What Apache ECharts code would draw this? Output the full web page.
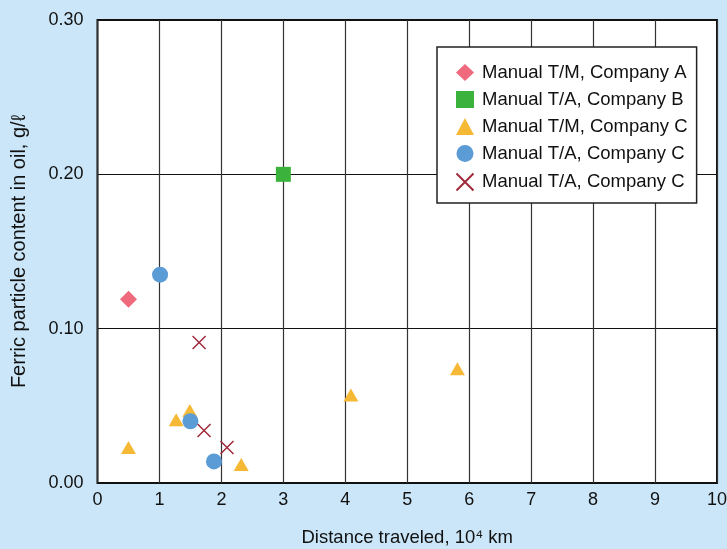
<!DOCTYPE html>
<html>
<head>
<meta charset="utf-8">
<script src="https://cdn.jsdelivr.net/npm/echarts@6/dist/echarts.min.js"></script>
<style>
  html, body { margin: 0; padding: 0; background: #cbe6f8; }
  #chart { width: 727px; height: 549px; }
</style>
</head>
<body>
<div id="chart"></div>
<script>
// data: [distance (10^4 km), ferric content (g/l)]
var seriesNames = ["Manual T/M, Company A", "Manual T/A, Company B", "Manual T/M, Company C", "Manual T/A, Company C", "Manual T/A, Company C "];
var tmCompanyA = [[0.5, 0.119]];
var taCompanyB = [[3.0, 0.200]];
var tmCompanyC = [[0.5, 0.023], [1.27, 0.041], [1.49, 0.047], [2.32, 0.012], [4.09, 0.057], [5.81, 0.074]];
var taCompanyC = [[1.01, 0.135], [1.5, 0.040], [1.88, 0.014]];
var taCompanyC2 = [[1.64, 0.091], [1.72, 0.034], [2.09, 0.023]];
var xTicks = [0, 1, 2, 3, 4, 5, 6, 7, 8, 9, 10];
var yTicks = [0, 0.1, 0.2, 0.3];

(function () {
    var myChart = echarts.init(document.getElementById("chart"));
    var font = "'Liberation Sans', Arial, sans-serif";
    var crossPath = "path://M0,0L10,10M10,0L0,10";

    var option = {
        backgroundColor: "#cbe6f8",
        textStyle: { fontFamily: font },
        grid: {
            left: 97.5,
            right: 10,
            top: 20,
            bottom: 66,
            outerBoundsMode: "none",
            show: true,
            backgroundColor: "#fff",
            borderColor: "#111",
            borderWidth: 2
        },
        legend: {
            orient: "vertical",
            left: 437,
            top: 47,
            backgroundColor: "#fff",
            borderColor: "#222",
            borderWidth: 1.5,
            borderRadius: 0,
            padding: [16, 9, 10, 17],
            itemGap: 8,
            itemWidth: 18,
            itemHeight: 17,
            textStyle: { fontSize: 18.5, color: "#111", fontFamily: font, padding: [0, 0, 0, 3] },
            formatter: function (name) { return name.trim(); },
            data: seriesNames
        },
        xAxis: {
            type: "value",
            min: xTicks[0],
            max: xTicks[xTicks.length - 1],
            interval: 1,
            name: "Distance traveled, 10\u2074 km",
            nameLocation: "middle",
            nameGap: 45,
            nameTextStyle: { fontSize: 18.5, color: "#111" },
            axisLine: { show: false },
            axisTick: { show: false },
            axisLabel: { fontSize: 18, color: "#111", margin: 8 },
            splitLine: { lineStyle: { color: "#333", width: 1.2 } }
        },
        yAxis: {
            type: "value",
            min: yTicks[0],
            max: yTicks[yTicks.length - 1],
            interval: 0.1,
            name: "Ferric particle content in oil, g/\u2113",
            nameLocation: "middle",
            nameGap: 68,
            nameTextStyle: { fontSize: 20, color: "#111" },
            axisLine: { show: false },
            axisTick: { show: false },
            axisLabel: {
                fontSize: 18,
                color: "#111",
                margin: 14,
                formatter: function (v) { return v.toFixed(2); }
            },
            splitLine: { lineStyle: { color: "#111", width: 1.2 } }
        },
        series: [
            {
                name: seriesNames[0],
                type: "scatter",
                symbol: "diamond",
                symbolSize: [17, 17],
                itemStyle: { color: "#ee6a7c", opacity: 1 },
                data: tmCompanyA
            },
            {
                name: seriesNames[1],
                type: "scatter",
                symbol: "rect",
                symbolSize: 15,
                itemStyle: { color: "#3bb23c", opacity: 1 },
                data: taCompanyB
            },
            {
                name: seriesNames[2],
                type: "scatter",
                symbol: "triangle",
                symbolSize: [15, 13],
                itemStyle: { color: "#f5b935", opacity: 1 },
                data: tmCompanyC
            },
            {
                name: seriesNames[3],
                type: "scatter",
                symbol: "circle",
                symbolSize: 16,
                itemStyle: { color: "#5b9bd6", opacity: 1 },
                data: taCompanyC
            },
            {
                name: seriesNames[4],
                type: "scatter",
                symbol: crossPath,
                symbolSize: 13,
                itemStyle: { color: "none", borderColor: "#a02a3c", borderWidth: 1.5, opacity: 1 },
                data: taCompanyC2
            }
        ]
    };

    myChart.setOption(option);
    window.addEventListener("resize", function () {
        myChart.resize();
    });
})();
</script>
</body>
</html>
